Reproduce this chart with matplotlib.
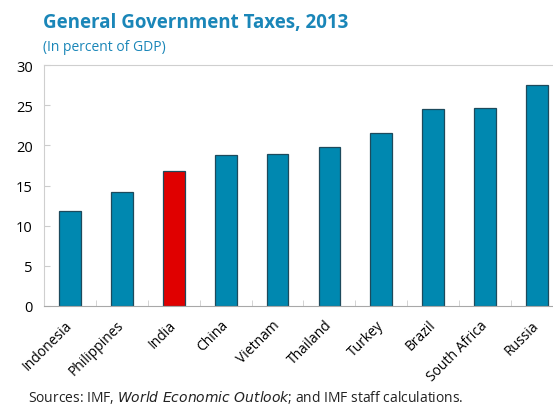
import matplotlib.pyplot as plt
import matplotlib.transforms as mtransforms
import numpy as np

plt.rcParams['font.family'] = ['Open Sans', 'DejaVu Sans']

countries = ['Indonesia', 'Philippines', 'India', 'China', 'Vietnam',
             'Thailand', 'Turkey', 'Brazil', 'South Africa', 'Russia']
taxes = [11.8, 14.2, 16.8, 18.8, 18.9, 19.8, 21.5, 24.5, 24.7, 27.5]
highlight = 'India'

blue = '#0088b0'
red = '#e00000'
title_col = '#1a86b8'

fig = plt.figure(figsize=(5.53, 4.06), dpi=100)
# axes run a little past the right edge, as in the original (right spine clipped)
ax = fig.add_axes([0.0795, 0.244, 0.9385, 0.593])

x = np.arange(len(countries))
colors = [red if c == highlight else blue for c in countries]
ax.bar(x, taxes, width=0.42, color=colors, edgecolor='#1d4a5c', linewidth=0.9)

ax.set_xlim(-0.5, len(countries) - 0.5)
ax.set_ylim(0, 30)
ax.set_yticks(range(0, 31, 5))
ax.set_xticks(x)
ax.set_xticklabels(countries, rotation=45, ha='right', va='center',
                   rotation_mode='anchor', fontsize=10)
shift = mtransforms.ScaledTranslation(-4 / 100, 0, fig.dpi_scale_trans)
for lab in ax.get_xticklabels():
    lab.set_transform(lab.get_transform() + shift)
ax.set_xticks(x[:-1] + 0.5, minor=True)
ax.tick_params(axis='x', which='major', length=0, pad=12)
ax.tick_params(axis='x', which='minor', length=4, direction='in', color='#cccccc')
ax.tick_params(axis='y', length=4, direction='in', color='#cccccc', labelsize=10.5, pad=8)

for s in ax.spines.values():
    s.set_color('#cfcfcf')
ax.spines['bottom'].set_color('#a8a8a8')

fig.text(0.078, 0.943, 'General Government Taxes, 2013', fontsize=13.5,
         fontweight='bold', color=title_col, va='center')
fig.text(0.078, 0.884, '(In percent of GDP)', fontsize=10, color=title_col, va='center')
fig.text(0.05, 0.022, 'Sources: IMF, $\\it{World\\ Economic\\ Outlook}$; and IMF staff calculations.',
         fontsize=10, color='#222222', va='center')

fig.savefig('out.png', dpi=100)
